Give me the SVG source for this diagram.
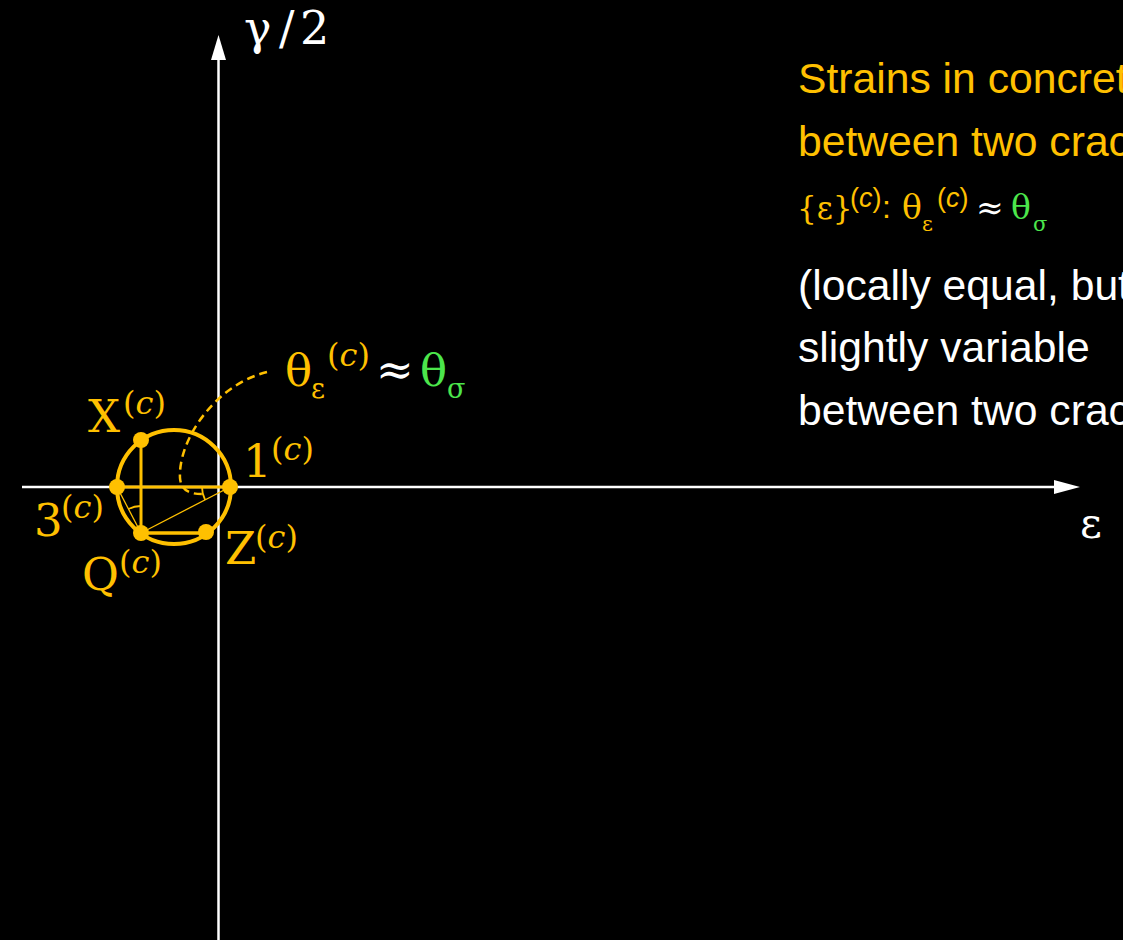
<svg xmlns="http://www.w3.org/2000/svg" width="1123" height="940" viewBox="0 0 1123 940">
<style>
.m{font-family:"DejaVu Serif","Liberation Serif",serif;font-size:45px}
.sup{font-family:"DejaVu Serif","Liberation Serif",serif;font-size:32px}
.it{font-style:italic}
.sub{font-family:"DejaVu Serif","Liberation Serif",serif;font-size:27px}
.t{font-family:"Liberation Sans",Arial,sans-serif;font-size:42.67px}
.s3{font-family:"DejaVu Serif","Liberation Serif",serif;font-size:33px}
.s3sub{font-family:"DejaVu Serif","Liberation Serif",serif;font-size:21px}
.s3sup{font-family:"Liberation Sans",Arial,sans-serif;font-size:27px}
.y{fill:#FFC000}
.w{fill:#FFFFFF}
.g{fill:#4CE64C}
.ax{stroke:#FFFFFF;stroke-width:2.5;fill:none}
.yl{stroke:#FFC000;fill:none}
.dot{fill:#FFC000}
</style>
<rect width="1123" height="940" fill="#000000"/>
<g id="connectors">
  <g id="axis-y">
    <line class="ax" x1="218.5" y1="940" x2="218.5" y2="58"/>
    <polygon points="218.5,35 211,60 226,60" fill="#FFFFFF"/>
  </g>
  <g id="axis-x">
    <line class="ax" x1="22" y1="487" x2="1056" y2="487"/>
    <polygon points="1080,487 1054,480 1054,494" fill="#FFFFFF"/>
  </g>
  <path id="leader" class="yl" stroke-width="2.5" stroke-dasharray="8 5" d="M267,372 C215,385 178,440 180,478 C181,492 192,494 202,494"/>
</g>
<g id="mohr-circle">
  <circle class="yl" cx="174" cy="487" r="57" stroke-width="4"/>
  <line class="yl" x1="117" y1="487" x2="230" y2="487" stroke-width="3"/>
  <line class="yl" x1="141" y1="440" x2="141" y2="533" stroke-width="3"/>
  <line class="yl" x1="141" y1="533" x2="206" y2="533" stroke-width="3.5"/>
  <line class="yl" x1="141" y1="533" x2="230" y2="487" stroke-width="1.3"/>
  <line class="yl" x1="117" y1="487" x2="141" y2="533" stroke-width="1.3"/>
  <path class="yl" stroke-width="1.8" d="M128.5,509 A27,27 0 0 1 141,506"/>
  <path class="yl" stroke-width="1.8" d="M202,487 A28,28 0 0 0 205.1,499.9"/>
</g>
<g id="points">
  <circle id="pt-X" class="dot" cx="141" cy="440" r="8"/>
  <circle id="pt-3" class="dot" cx="117" cy="487" r="8"/>
  <circle id="pt-1" class="dot" cx="230" cy="487" r="8"/>
  <circle id="pt-Q" class="dot" cx="141" cy="533" r="8"/>
  <circle id="pt-Z" class="dot" cx="206" cy="532" r="8"/>
</g>
<g id="label-X"><text class="m y" x="88" y="432">X</text><text class="sup y" x="123" y="414">(<tspan class="it">c</tspan>)</text></g>
<g id="label-1"><text class="m y" x="243" y="477">1</text><text class="sup y" x="271" y="460">(<tspan class="it">c</tspan>)</text></g>
<g id="label-3"><text class="m y" x="34" y="536">3</text><text class="sup y" x="61" y="518">(<tspan class="it">c</tspan>)</text></g>
<g id="label-Q"><text class="m y" x="82" y="590">Q</text><text class="sup y" x="119" y="573">(<tspan class="it">c</tspan>)</text></g>
<g id="label-Z"><text class="m y" x="225" y="564">Z</text><text class="sup y" x="255" y="548">(<tspan class="it">c</tspan>)</text></g>
<g id="label-gamma"><text class="m w" x="244" y="44" style="font-size:46px">γ<tspan x="279">/</tspan><tspan x="300">2</tspan></text></g>
<g id="label-eps"><text class="m w" x="1080" y="538" style="font-size:42px">ε</text></g>
<g id="label-theta">
  <text class="m y" x="285" y="386">θ</text>
  <text class="sub y" x="311" y="398">ε</text>
  <text class="sup y" x="327" y="366">(<tspan class="it">c</tspan>)</text>
  <text class="m w" x="376" y="385">≈</text>
  <text class="m g" x="420" y="386">θ</text>
  <text class="sub g" x="447" y="398">σ</text>
</g>
<g id="note">
  <text class="s3 y" x="797" y="219" style="font-size:31px">{ε}</text>
  <text class="s3sup y" x="850" y="207">(<tspan class="it">c</tspan>)</text>
  <text class="s3sup y" x="882" y="218" style="font-size:32px">:</text>
  <text class="s3 y" x="902" y="219">θ</text>
  <text class="s3sub y" x="922" y="231">ε</text>
  <text class="s3sup y" x="937" y="207">(<tspan class="it">c</tspan>)</text>
  <text class="s3 w" x="976" y="219">≈</text>
  <text class="s3 g" x="1011" y="219">θ</text>
  <text class="s3sub g" x="1033" y="231">σ</text>
  <text class="t y" x="798" y="93">Strains in concrete</text>
  <text class="t y" x="798" y="156">between two cracks</text>
  <text class="t w" x="798" y="300">(locally equal, but</text>
  <text class="t w" x="798" y="362">slightly variable</text>
  <text class="t w" x="798" y="425">between two cracks</text>
</g>
</svg>
